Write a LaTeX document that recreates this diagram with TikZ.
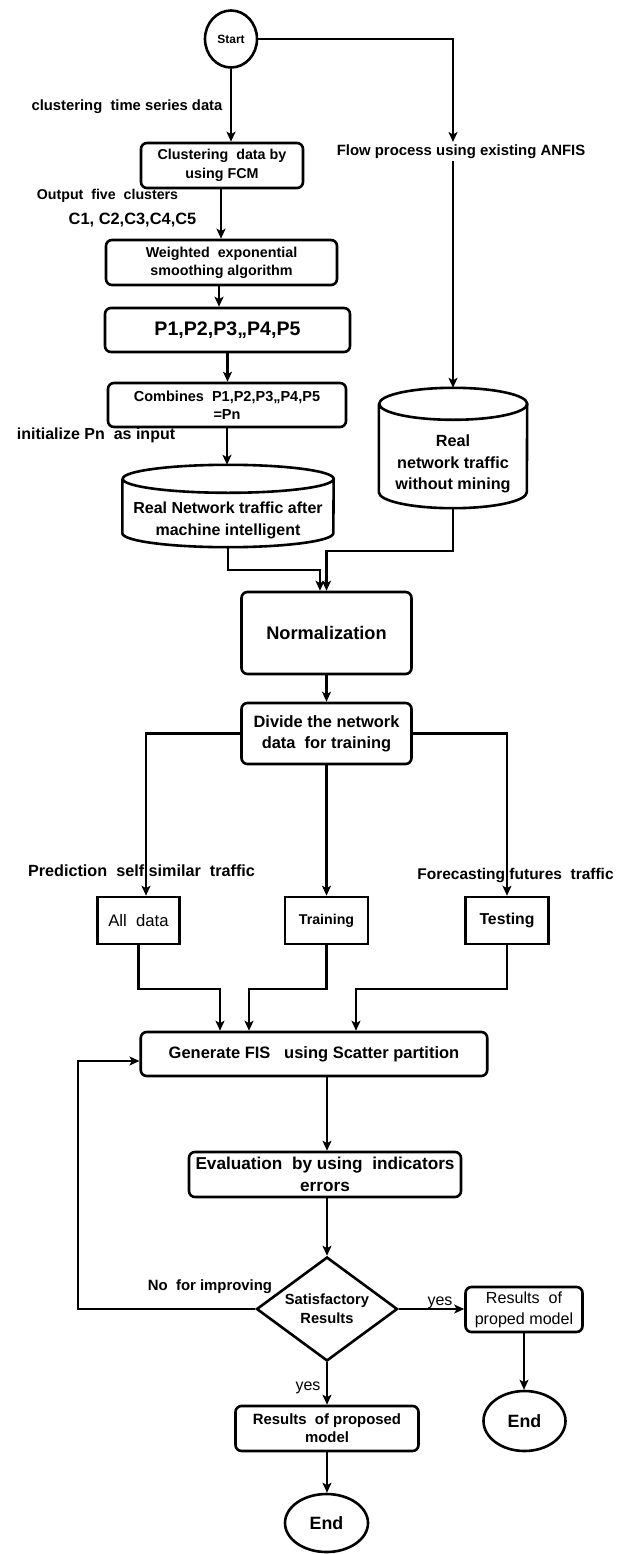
\documentclass[tikz,border=0pt]{standalone}
\usepackage{fontspec}
\setmainfont{Liberation Sans}
\usetikzlibrary{shapes.geometric,arrows.meta,calc}
\newcommand\fz[2]{\fontsize{#1pt}{#2pt}\selectfont}
\newcommand\bfz[2]{\bfseries\fontsize{#1pt}{#2pt}\selectfont}
\begin{document}
\begin{tikzpicture}[x=1pt,y=-1pt,
  box/.style={draw,line width=2.6pt,rounded corners=6pt,align=center,inner sep=0pt},
  sqbox/.style={draw,line width=2.6pt,align=center,inner sep=0pt},
  term/.style={draw,ellipse,line width=2.6pt,inner sep=0pt},
  body/.style={inner sep=0pt,align=center},
  lbl/.style={inner sep=0pt},
  flow/.style={line width=2.3pt,-{Stealth[length=10pt,width=9pt,inset=2.5pt]}},
  drum/.style={line width=2.6pt}]
\useasboundingbox[fill=white] (0,0) rectangle (623,1554);

% terminals and process boxes
\node[term,font=\bfz{12}{14},minimum width=52pt,minimum height=57pt] (start) at (231,39) {Start};
\node[box,font=\bfz{14.3}{19},minimum width=162pt,minimum height=45pt] (fcm) at (222,165.5) {Clustering\ \ data by\\using FCM};
\node[box,font=\bfz{14.3}{18},minimum width=231pt,minimum height=45pt] (wes) at (221.5,262.5) {Weighted\ \ exponential\\smoothing algorithm};
\node[box,font=\bfz{19.6}{22},minimum width=245pt,minimum height=44pt] (pbox) at (227.5,330) {P1,P2,P3,,P4,P5};
\node[box,font=\bfz{14.5}{18},minimum width=238pt,minimum height=44pt] (comb) at (227,405) {Combines\ \ P1,P2,P3,,P4,P5\\=Pn};

% data stores (cylinders): node = body below the top ellipse
\node[body,font=\bfz{16}{22},minimum width=211pt,minimum height=54pt] (cylL) at (228,520) {Real Network traffic after\\machine intelligent};
\draw[drum] ([yshift=14pt]cylL.north west) -- ([yshift=14pt]cylL.south west)
  arc[start angle=180,end angle=360,x radius=105.5pt,y radius=14pt]
  -- ([yshift=14pt]cylL.north east)
  arc[start angle=0,end angle=180,x radius=105.5pt,y radius=14pt]
  arc[start angle=180,end angle=360,x radius=105.5pt,y radius=14pt];
\coordinate (cylLtop) at ([yshift=28pt]cylL.north);

\node[body,font=\bfz{16.2}{21.5},minimum width=148pt,minimum height=88pt] (cylR) at (453,464) {Real\\network traffic\\without mining};
\draw[drum] ([yshift=16pt]cylR.north west) -- ([yshift=16pt]cylR.south west)
  arc[start angle=180,end angle=360,x radius=74pt,y radius=16pt]
  -- ([yshift=16pt]cylR.north east)
  arc[start angle=0,end angle=180,x radius=74pt,y radius=16pt]
  arc[start angle=180,end angle=360,x radius=74pt,y radius=16pt];
\coordinate (cylRtop) at ([yshift=32pt]cylR.north);

\node[box,font=\bfz{18.2}{22},minimum width=170pt,minimum height=82pt] (norm) at (326.5,633) {Normalization};
\node[box,font=\bfz{16.4}{21},minimum width=170pt,minimum height=61pt] (divide) at (326.5,733.5) {Divide the network\\data\ \ for training};

\node[sqbox,font=\fz{16.7}{20},minimum width=82pt,minimum height=47pt] (alldata) at (138.5,920.5) {All\ \ data};
\node[sqbox,font=\bfz{14.2}{18},minimum width=83pt,minimum height=47pt] (training) at (326.5,920.5) {Training};
\node[sqbox,font=\bfz{15.8}{19},minimum width=83pt,minimum height=47pt] (testing) at (507,920.5) {Testing};

\node[box,font=\bfz{16.5}{20},minimum width=346.5pt,minimum height=44pt] (gen) at (314,1054) {Generate FIS\ \ \ using Scatter partition};
\node[box,font=\bfz{17.2}{22},minimum width=272pt,minimum height=45pt] (eval) at (325,1174.5) {Evaluation\ \ by using\ \ indicators\\errors};
\node[draw,diamond,line width=2.6pt,inner sep=0pt,aspect=1.36,align=center,font=\bfz{14.7}{19},minimum width=141pt,minimum height=104pt] (dia) at (327,1309) {Satisfactory\\Results};

\node[box,font=\fz{16.1}{21},minimum width=117pt,minimum height=45pt] (resR) at (524,1309.5) {Results\ \ of\\proped model};
\node[term,font=\bfz{17.8}{20},minimum width=82pt,minimum height=60pt] (endR) at (524.5,1421) {End};
\node[box,font=\bfz{14.9}{18},minimum width=183pt,minimum height=45pt] (resB) at (327,1428.5) {Results\ \ of proposed\\model};
\node[term,font=\bfz{17.8}{20},minimum width=83pt,minimum height=58pt] (endB) at (326.5,1523) {End};

% edge labels
\node[lbl,font=\bfz{14.8}{18}] (l1) at (127,107) {clustering\ \ time series data};
\node[lbl,font=\bfz{14.9}{18}] (l2) at (461,152) {Flow process using existing ANFIS};
\node[lbl,font=\bfz{14.2}{18}] (l3) at (107.5,196) {Output\ \ five\ \ clusters};
\node[lbl,font=\bfz{16.4}{20}] (l4) at (132.5,220) {C1, C2,C3,C4,C5};
\node[lbl,font=\bfz{16}{20}] (l5) at (96,435) {initialize Pn\ \ as input};
\node[lbl,font=\bfz{16.2}{20}] (l6) at (141.5,871) {Prediction\ \ self similar\ \ traffic};
\node[lbl,font=\bfz{15.5}{19}] (l7) at (515.5,876) {Forecasting futures\ \ traffic};
\node[lbl,font=\bfz{14.9}{18}] (l8) at (210,1287) {No\ \ for improving};
\node[lbl,font=\fz{16}{19}] (l9) at (440,1303) {yes};
\node[lbl,font=\fz{16}{19}] (l10) at (308,1388) {yes};

% connectors
\coordinate (anfisIn) at (453,142);
\coordinate (anfisOut) at (453,161);
\draw[flow] (start.south) -- (start.south |- fcm.north);
\draw[flow] (start.east) -| (anfisIn);
\draw[flow] (anfisOut) -- (cylRtop);
\draw[flow] ([xshift=-1pt]fcm.south) -- ([xshift=-1pt]fcm.south |- wes.north);
\draw[flow] ([xshift=-2.5pt]wes.south) -- ([xshift=-2.5pt]wes.south |- pbox.north);
\draw[flow] (pbox.south) -- (pbox.south |- comb.north);
\draw[flow] (comb.south) -- (comb.south |- cylLtop);
\draw[flow] (cylL.south) -- ++(0,23) -| ([xshift=-6.5pt]norm.north);
\draw[flow] (cylR.south) -- ++(0,43) -| (norm.north);
\draw[flow] (norm.south) -- (divide.north);
\draw[flow] (divide.west) -| ([xshift=7.5pt]alldata.north);
\draw[flow] (divide.south) -- (training.north);
\draw[flow] (divide.east) -| (testing.north);
\draw[flow] (alldata.south) -- ++(0,44) -| ([xshift=-94pt]gen.north);
\draw[flow] (training.south) -- ++(0,44) -| ([xshift=-65pt]gen.north);
\draw[flow] (testing.south) -- ++(0,44) -| ([xshift=42pt]gen.north);
\draw[flow] ([xshift=13pt]gen.south) -- ([xshift=2pt]eval.north);
\draw[flow] ([xshift=2pt]eval.south) -- (dia.north);
\coordinate (fbk) at (78,1309);
\draw[flow] (dia.west) -- (fbk) |- ([yshift=-7pt]gen.west);
\draw[flow] (dia.east) -- (dia.east -| resR.west);
\draw[flow] (resR.south) -- (resR.south |- endR.north);
\draw[flow] (dia.south) -- (resB.north);
\draw[flow] (resB.south) -- (resB.south |- endB.north);
\end{tikzpicture}
\end{document}
